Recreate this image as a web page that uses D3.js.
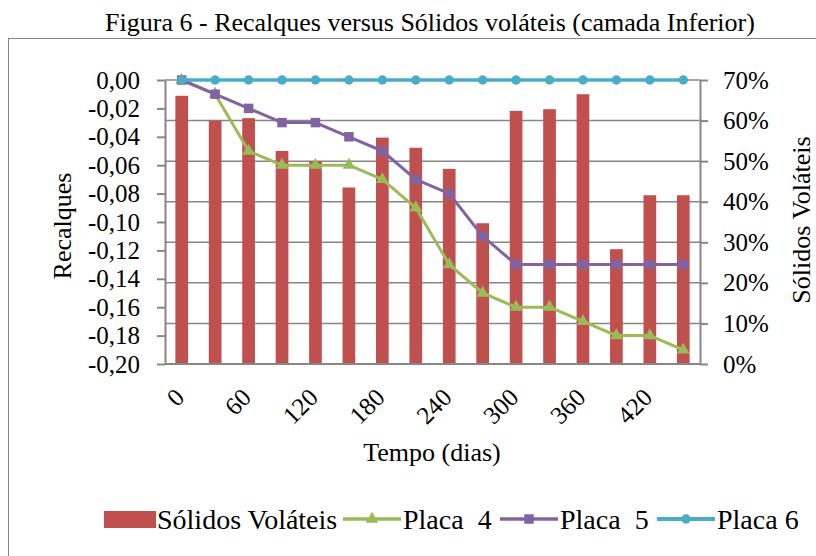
<!DOCTYPE html>
<html><head><meta charset="utf-8">
<script src="https://cdn.jsdelivr.net/npm/d3@7"></script>
<style>
html,body{margin:0;padding:0;background:#fff;}
svg{display:block;}
text{font-family:"Liberation Serif","Times New Roman",serif;fill:#000;}
</style></head>
<body>
<svg id="c" width="816" height="556"></svg>
<script>
const days = [0,30,60,90,120,150,180,210,240,270,300,330,360,390,420,450];
const tickLabels = ["0","60","120","180","240","300","360","420"];
const solidosVolateis = [0.661,0.600,0.606,0.525,0.500,0.435,0.558,0.533,0.481,0.347,0.624,0.628,0.665,0.283,0.416,0.416];
const placa4 = [0,-0.01,-0.05,-0.06,-0.06,-0.06,-0.07,-0.09,-0.13,-0.15,-0.16,-0.16,-0.17,-0.18,-0.18,-0.19];
const placa5 = [0,-0.01,-0.02,-0.03,-0.03,-0.04,-0.05,-0.07,-0.08,-0.11,-0.13,-0.13,-0.13,-0.13,-0.13,-0.13];
const placa6 = [0,0,0,0,0,0,0,0,0,0,0,0,0,0,0,0];
const leftTicks = [0,-0.02,-0.04,-0.06,-0.08,-0.10,-0.12,-0.14,-0.16,-0.18,-0.20];
const rightTicks = [0,0.1,0.2,0.3,0.4,0.5,0.6,0.7];

const svg = d3.select("#c");
const L = 165, R = 700, T = 80, B = 364;
const gray = "#868686";
const cBar = "#C0504D", c4 = "#9BBB59", c5 = "#8064A2", c6 = "#4BACC6";

const x = d3.scaleBand().domain(days).range([L, R]).padding(0);
const cx = d => x(d) + x.bandwidth() / 2;
const yL = d3.scaleLinear().domain([-0.20, 0]).range([B, T]);
const yR = d3.scaleLinear().domain([0, 0.70]).range([B, T]);

const loc = d3.formatLocale({decimal: ",", thousands: ".", grouping: [3], currency: ["", ""], minus: "-"});
const fmtL = loc.format(".2f");
const fmtR = d => Math.round(d * 100) + "%";

// chart border
svg.append("rect").attr("x", 8.5).attr("y", 38.5).attr("width", 900).attr("height", 700)
  .attr("fill", "none").attr("stroke", gray).attr("stroke-width", 1);

// title
svg.append("text").attr("x", 430).attr("y", 31).attr("text-anchor", "middle")
  .attr("font-size", 26).text("Figura 6 - Recalques versus Sólidos voláteis (camada Inferior)");

// gridlines (secondary axis)
svg.append("g").selectAll("line").data(rightTicks.filter(d => d > 0)).join("line")
  .attr("x1", L).attr("x2", R).attr("y1", d => yR(d)).attr("y2", d => yR(d))
  .attr("stroke", gray).attr("stroke-width", 1.5);

// bars
const bw = x.bandwidth() * 0.38;
svg.append("g").selectAll("rect").data(days).join("rect")
  .attr("x", d => cx(d) - bw / 2).attr("width", bw)
  .attr("y", (d, i) => yR(solidosVolateis[i]))
  .attr("height", (d, i) => yR(0) - yR(solidosVolateis[i]))
  .attr("fill", cBar);

// axes
function styleAxis(g) {
  g.select(".domain").attr("stroke", gray).attr("stroke-width", 2);
  g.selectAll(".tick line").attr("stroke", gray).attr("stroke-width", 2);
  g.selectAll(".tick text").attr("font-size", 25).attr("font-family", '"Liberation Serif","Times New Roman",serif').attr("fill", "#000");
}
svg.append("g").attr("transform", `translate(${L},0)`)
  .call(d3.axisLeft(yL).tickValues(leftTicks).tickFormat(fmtL).tickSize(8).tickSizeOuter(0).tickPadding(17))
  .call(styleAxis);
svg.append("g").attr("transform", `translate(${R},0)`)
  .call(d3.axisRight(yR).tickValues(rightTicks).tickFormat(fmtR).tickSize(8).tickSizeOuter(0).tickPadding(15))
  .call(styleAxis);
svg.append("line").attr("x1", L).attr("x2", R).attr("y1", B).attr("y2", B)
  .attr("stroke", gray).attr("stroke-width", 2);

// x tick labels
const labelDays = days.filter(d => tickLabels.includes(String(d)));
svg.append("g").selectAll("text").data(labelDays).join("text")
  .attr("transform", d => `translate(${cx(d) + 4},${399}) rotate(-45)`)
  .attr("text-anchor", "end").attr("font-size", 25).text(d => String(d));

// axis titles
svg.append("text").attr("x", 432).attr("y", 461).attr("text-anchor", "middle")
  .attr("font-size", 26).text("Tempo (dias)");
svg.append("text").attr("transform", "translate(71,226) rotate(-90)").attr("text-anchor", "middle")
  .attr("font-size", 26).text("Recalques");
svg.append("text").attr("transform", "translate(810,220) rotate(-90)").attr("text-anchor", "middle")
  .attr("font-size", 26).text("Sólidos Voláteis");

// line series
function symPath(type, size) { return d3.symbol().type(type).size(size)(); }
const series = [
  {vals: placa4, color: c4, sym: d3.symbolTriangle, size: 70, w: 3},
  {vals: placa5, color: c5, sym: d3.symbolSquare, size: 90, w: 3},
  {vals: placa6, color: c6, sym: d3.symbolCircle, size: 70, w: 3.5}
];
const line = d3.line().x(d => cx(d[0])).y(d => yL(d[1]));
series.forEach(s => {
  const pts = days.map((d, i) => [d, s.vals[i]]);
  svg.append("path").datum(pts).attr("d", line).attr("fill", "none")
    .attr("stroke", s.color).attr("stroke-width", s.w).attr("stroke-linejoin", "round");
  svg.append("g").selectAll("path").data(pts).join("path")
    .attr("d", symPath(s.sym, s.size))
    .attr("transform", d => `translate(${cx(d[0])},${yL(d[1])})`)
    .attr("fill", s.color);
});

// legend
const lg = svg.append("g");
const ly = 519;
const lfs = 28;
lg.append("rect").attr("x", 104).attr("y", ly - 8).attr("width", 52).attr("height", 17).attr("fill", cBar);
lg.append("text").attr("x", 157).attr("y", ly + 10).attr("font-size", lfs).text("Sólidos Voláteis");
const legItems = [
  {label: "Placa  4", s: series[0], lx: 343, tx: 403},
  {label: "Placa  5", s: series[1], lx: 500, tx: 560},
  {label: "Placa 6", s: series[2], lx: 657, tx: 717}
];
legItems.forEach(it => {
  lg.append("line").attr("x1", it.lx).attr("x2", it.lx + 58).attr("y1", ly).attr("y2", ly)
    .attr("stroke", it.s.color).attr("stroke-width", it.s.w + 0.5);
  lg.append("path").attr("d", symPath(it.s.sym, it.s.size)).attr("transform", `translate(${it.lx + 29},${ly})`)
    .attr("fill", it.s.color);
  lg.append("text").attr("x", it.tx).attr("y", ly + 10).attr("font-size", lfs)
    .style("white-space", "pre").text(it.label);
});
</script>
</body></html>
